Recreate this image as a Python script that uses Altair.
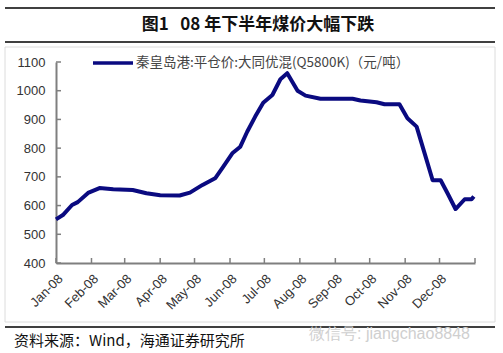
import altair as alt
import pandas as pd

# ---- data ----
dates = ["2008-01-01", "2008-01-07", "2008-01-15", "2008-01-20", "2008-01-29",
         "2008-02-08", "2008-02-20", "2008-03-08", "2008-03-20", "2008-04-01",
         "2008-04-18", "2008-04-27", "2008-05-08", "2008-05-19", "2008-05-26",
         "2008-06-03", "2008-06-10", "2008-06-16", "2008-06-23", "2008-06-30",
         "2008-07-08", "2008-07-15", "2008-07-21", "2008-07-30", "2008-08-06",
         "2008-08-19", "2008-09-16", "2008-09-23", "2008-10-07", "2008-10-14",
         "2008-10-27", "2008-11-03", "2008-11-11", "2008-11-18", "2008-11-25",
         "2008-12-02", "2008-12-08", "2008-12-15", "2008-12-23", "2008-12-29",
         "2008-12-31"]
prices = [552, 567, 602, 612, 644,
          661, 657, 654, 643, 636,
          635, 645, 672, 695, 735,
          782, 805, 857, 910, 958,
          985, 1040, 1061, 1000, 983,
          972, 972, 966, 960, 953,
          953, 904, 875, 782, 688,
          688, 643, 588, 622, 622,
          632]
tick_dates = ["2008-01-01", "2008-02-01", "2008-03-01", "2008-04-01", "2008-05-01",
              "2008-06-01", "2008-07-01", "2008-08-01", "2008-09-01", "2008-10-01",
              "2008-11-01", "2008-12-01", "2009-01-01"]
y_ticks = [400, 500, 600, 700, 800, 900, 1000, 1100]

title_text = "图1\u00a0\u00a0\u00a008\u00a0年下半年煤价大幅下跌"
series_name = "秦皇岛港:平仓价:大同优混(Q5800K)（元/吨）"
source_text = "资料来源：Wind，海通证券研究所"
watermark = "微信号: jiangchao8848"

df = pd.DataFrame({"date": dates, "price": prices})
tick_df = pd.DataFrame({"date": tick_dates})
ytick_df = pd.DataFrame({"price": y_ticks})

W, H = 419, 201
AXIS_GRAY = "#7f7f7f"
NAVY = "#0a0a80"
CJK = "Noto Sans CJK SC"
LAT = "Liberation Sans"

xscale = alt.Scale(type="utc",
                   domain=[alt.DateTime(year=2008, month=1, date=1, utc=True),
                           alt.DateTime(year=2009, month=1, date=1, utc=True)])
yscale = alt.Scale(domain=[400, 1100], nice=False, zero=False)

tick_vals = [alt.DateTime(year=2008 + (m // 12), month=(m % 12) + 1, date=1, utc=True)
             for m in range(13)]

xaxis = alt.Axis(values=tick_vals, ticks=False, grid=False,
                 labelExpr="utcyear(datum.value) > 2008 ? '' : utcFormat(datum.value, '%b-%y')",
                 domainColor=AXIS_GRAY, domainWidth=2,
                 labelAngle=315, labelAlign="right", labelBaseline="top",
                 labelPadding=9, labelFont=LAT, labelFontSize=13,
                 labelColor="#333", labelOverlap=False, title=None)
yaxis = alt.Axis(values=y_ticks, ticks=False, grid=False, format="d",
                 domainColor=AXIS_GRAY, domainWidth=2,
                 labelPadding=11, labelFont=LAT, labelFontSize=13,
                 labelColor="#333", title=None)

one = alt.Data(values=[{}])

# decorations
frame = alt.Chart(one).mark_rect(filled=False, stroke="#dcdcdc", strokeWidth=1).encode(
    x=alt.value(-51), x2=alt.value(439), y=alt.value(-15), y2=alt.value(260))

def hline(y, x1=-51, x2=439, color="black", w=1.5):
    return alt.Chart(one).mark_rule(color=color, strokeWidth=w).encode(
        x=alt.value(x1), x2=alt.value(x2), y=alt.value(y))

top_line = hline(-54)
mid_line = hline(-20)
bot_line = hline(265)

title = alt.Chart(one).mark_text(text=title_text, font=CJK, fontSize=17, fontWeight="bold",
                                 align="center", baseline="middle", color="#111").encode(
    x=alt.value(202), y=alt.value(-37))

source = alt.Chart(one).mark_text(text=source_text, font=CJK, fontSize=15,
                                  align="left", baseline="middle", color="#111").encode(
    x=alt.value(-42), y=alt.value(279))

wm = alt.Chart(one).mark_text(text=watermark, font=LAT, fontSize=16,
                              align="left", baseline="middle", color="#cfcfcf").encode(
    x=alt.value(253), y=alt.value(272))

legend_line = alt.Chart(one).mark_rule(color=NAVY, strokeWidth=3.5).encode(
    x=alt.value(37), x2=alt.value(77), y=alt.value(1))
legend_text = alt.Chart(one).mark_text(text=series_name, font=CJK, fontSize=13.5,
                                       align="left", baseline="middle", color="#444").encode(
    x=alt.value(80), y=alt.value(1))

# main series
line = alt.Chart(df).mark_line(color=NAVY, strokeWidth=4, strokeJoin="round").encode(
    x=alt.X("date:T", scale=xscale, axis=xaxis),
    y=alt.Y("price:Q", scale=yscale, axis=yaxis),
)

xticks = alt.Chart(tick_df).mark_rule(color=AXIS_GRAY, strokeWidth=1.5).encode(
    x=alt.X("date:T", scale=xscale, axis=xaxis),
    y=alt.value(H - 5), y2=alt.value(H))

yticks = alt.Chart(ytick_df).mark_rule(color=AXIS_GRAY, strokeWidth=1.5).encode(
    y=alt.Y("price:Q", scale=yscale, axis=yaxis),
    x=alt.value(0), x2=alt.value(5))

chart = alt.layer(frame, top_line, mid_line, bot_line, title, source, wm,
                  line, xticks, yticks, legend_line, legend_text).properties(
    width=W, height=H,
    padding={"left": 56, "top": 62, "right": 28, "bottom": 90},
    autosize=alt.AutoSizeParams(type="none"),
    background="white",
).configure_view(stroke=None)

chart.save("out.html", embed_options={"renderer": "svg", "actions": False})
